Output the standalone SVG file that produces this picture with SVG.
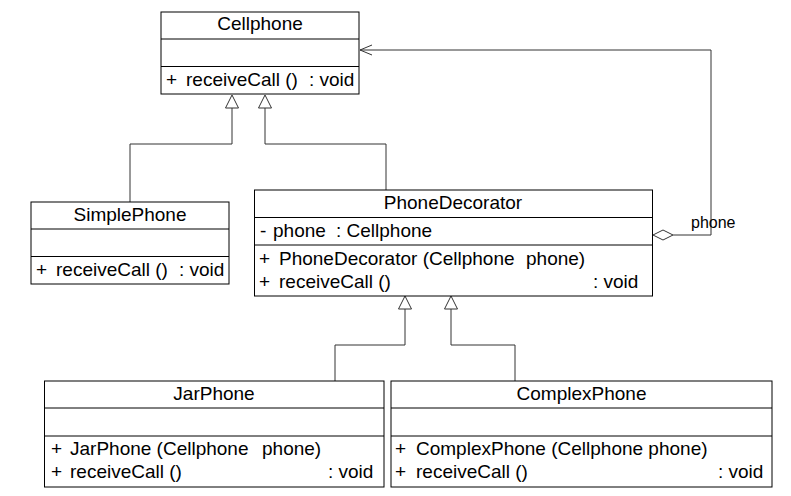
<svg xmlns="http://www.w3.org/2000/svg" width="791" height="496" viewBox="0 0 791 496">
<style>
.box{fill:#fff;stroke:#000;stroke-width:1}
.sep{stroke:#000;stroke-width:1}
text{font-family:"Liberation Sans",Arial,sans-serif;font-size:19px;fill:#000}
.c{text-anchor:middle}
.lbl{font-size:16px}
.con{fill:none;stroke:#333;stroke-width:1}
.tri{fill:#fff;stroke:#333;stroke-width:1}
</style>
<rect width="791" height="496" fill="#fff"/>
<g id="connectors">
<polyline class="con" points="130,202 130,144 232,144 232,108"/>
<polygon class="tri" points="232,95 225.5,108 238.5,108"/>
<polyline class="con" points="386,190 386,144 265,144 265,108"/>
<polygon class="tri" points="265,95 258.5,108 271.5,108"/>
<polyline class="con" points="335,381 335,345 405,345 405,309"/>
<polygon class="tri" points="405,296 398.5,309 411.5,309"/>
<polyline class="con" points="515,381 515,345 451,345 451,309"/>
<polygon class="tri" points="451,296 444.5,309 457.5,309"/>
<polyline class="con" points="673,235 711,235 711,50 360,50"/>
<polyline class="con" points="372,45 360,50 372,55"/>
<polygon class="tri" points="653,235 663,230 673,235 663,240"/>
<text class="lbl" x="691" y="228">phone</text>
</g>
<g id="Cellphone">
<rect class="box" x="161" y="12" width="198" height="82"/>
<line class="sep" x1="161" y1="39" x2="359" y2="39"/>
<line class="sep" x1="161" y1="66.5" x2="359" y2="66.5"/>
<text class="c" x="260" y="30">Cellphone</text>
<text y="86"><tspan x="166">+</tspan><tspan x="186">receiveCall ()</tspan><tspan x="309">: void</tspan></text>
</g>
<g id="SimplePhone">
<rect class="box" x="31" y="202" width="198" height="82"/>
<line class="sep" x1="31" y1="229" x2="229" y2="229"/>
<line class="sep" x1="31" y1="256.5" x2="229" y2="256.5"/>
<text class="c" x="130" y="220.5">SimplePhone</text>
<text y="276"><tspan x="36">+</tspan><tspan x="56">receiveCall ()</tspan><tspan x="179">: void</tspan></text>
</g>
<g id="PhoneDecorator">
<rect class="box" x="254.5" y="190" width="398" height="106"/>
<line class="sep" x1="254.5" y1="217.5" x2="652.5" y2="217.5"/>
<line class="sep" x1="254.5" y1="245" x2="652.5" y2="245"/>
<text class="c" x="453" y="208.5">PhoneDecorator</text>
<text y="237"><tspan x="260">-</tspan><tspan x="273">phone</tspan><tspan x="336">: Cellphone</tspan></text>
<text y="265"><tspan x="259">+</tspan><tspan x="279">PhoneDecorator (Cellphone</tspan><tspan x="526">phone)</tspan></text>
<text y="288"><tspan x="259">+</tspan><tspan x="279">receiveCall ()</tspan><tspan x="593">: void</tspan></text>
</g>
<g id="JarPhone">
<rect class="box" x="44.5" y="381" width="339.5" height="106"/>
<line class="sep" x1="44.5" y1="408" x2="384" y2="408"/>
<line class="sep" x1="44.5" y1="436" x2="384" y2="436"/>
<text class="c" x="214" y="400">JarPhone</text>
<text y="455"><tspan x="51">+</tspan><tspan x="70">JarPhone (Cellphone</tspan><tspan x="262">phone)</tspan></text>
<text y="478"><tspan x="51">+</tspan><tspan x="70">receiveCall ()</tspan><tspan x="328">: void</tspan></text>
</g>
<g id="ComplexPhone">
<rect class="box" x="391" y="381" width="381" height="106"/>
<line class="sep" x1="391" y1="408" x2="772" y2="408"/>
<line class="sep" x1="391" y1="436" x2="772" y2="436"/>
<text class="c" x="581.5" y="400">ComplexPhone</text>
<text y="455"><tspan x="395">+</tspan><tspan x="416">ComplexPhone (Cellphone phone)</tspan></text>
<text y="478"><tspan x="395">+</tspan><tspan x="416">receiveCall ()</tspan><tspan x="718">: void</tspan></text>
</g>
</svg>
